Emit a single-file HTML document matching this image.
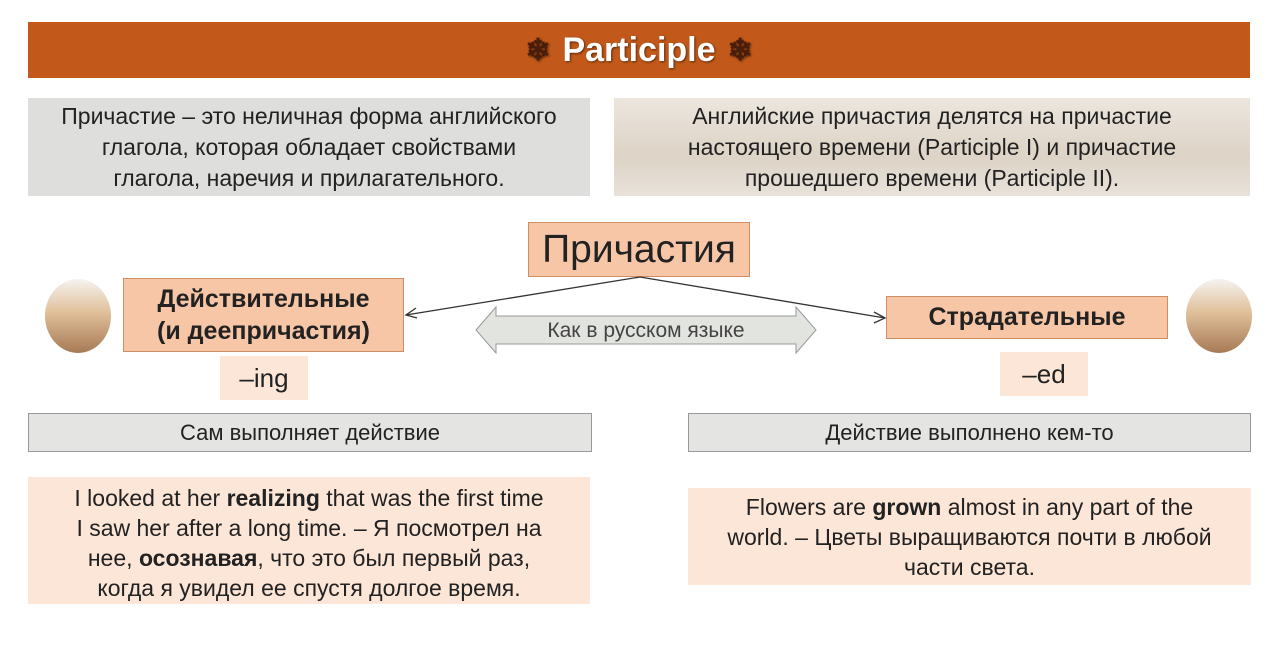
<!DOCTYPE html>
<html><head><meta charset="utf-8"><style>
body{margin:0;width:1280px;height:652px;background:#fff;position:relative;overflow:hidden;font-family:"Liberation Sans","Noto Sans CJK SC",sans-serif;color:#222}
.a{position:absolute;box-sizing:border-box;display:flex;align-items:center;justify-content:center;text-align:center;white-space:nowrap}
.pk{background:#f7c6a6;border:1px solid #cf8d62}
.lt{background:#fce6d8}
.gr{background:#e4e4e2;border:1px solid #999}
.ov{position:absolute;border-radius:50%;background:linear-gradient(#f5f3f0,#e0c09a 45%,#a77a55)}
</style></head><body>
<div class="a" style="left:28px;top:22px;width:1222px;height:56px;background:#c2591b;color:#fff;font-weight:bold;font-size:34px;text-shadow:1px 1px 2px #5a2a0a">
<span style="color:#4a1d0a;font-size:30px;margin-right:12px">❄</span>Participle<span style="color:#4a1d0a;font-size:30px;margin-left:12px">❄</span></div>
<div class="a" style="left:28px;top:98px;width:562px;height:98px;background:#dededc;font-size:23px;line-height:31px"><div>Причастие – это неличная форма английского<br>глагола, которая обладает свойствами<br>глагола, наречия и прилагательного.</div></div>
<div class="a" style="left:614px;top:98px;width:636px;height:98px;background:linear-gradient(#ece6de,#ddd3c6 60%,#e8e2da);font-size:23px;line-height:31px"><div>Английские причастия делятся на причастие<br>настоящего времени (Participle I) и причастие<br>прошедшего времени (Participle II).</div></div>
<div class="a pk" style="left:528px;top:222px;width:222px;height:55px;font-size:39px">Причастия</div>
<div class="a pk" style="left:123px;top:278px;width:281px;height:74px;font-size:25px;font-weight:bold;line-height:32px"><div>Действительные<br>(и деепричастия)</div></div>
<div class="a pk" style="left:886px;top:296px;width:282px;height:43px;font-size:25px;font-weight:bold">Страдательные</div>
<div class="a lt" style="left:220px;top:356px;width:88px;height:44px;font-size:26px">–ing</div>
<div class="a lt" style="left:1000px;top:352px;width:88px;height:44px;font-size:26px">–ed</div>
<div class="ov" style="left:45px;top:279px;width:66px;height:74px"></div>
<div class="ov" style="left:1186px;top:279px;width:66px;height:74px"></div>
<svg style="position:absolute;left:0;top:0" width="1280" height="652">
<polygon points="476,330 496,307 496,316 796,316 796,307 816,330 796,353 796,344 496,344 496,353" fill="#e2e4e0" stroke="#9a9a9a"/>
<text x="646" y="337" text-anchor="middle" font-size="21" fill="#444" font-family="Liberation Sans,sans-serif">Как в русском языке</text>
<line x1="640" y1="277" x2="406" y2="315" stroke="#333" stroke-width="1.3"/>
<polyline points="416,308 406,315 417,318" fill="none" stroke="#333" stroke-width="1.3"/>
<line x1="640" y1="277" x2="885" y2="318" stroke="#333" stroke-width="1.3"/>
<polyline points="874,312 885,318 874,323" fill="none" stroke="#333" stroke-width="1.3"/>
</svg>
<div class="a gr" style="left:28px;top:413px;width:564px;height:39px;font-size:22px">Сам выполняет действие</div>
<div class="a gr" style="left:688px;top:413px;width:563px;height:39px;font-size:22px">Действие выполнено кем-то</div>
<div class="a lt" style="left:28px;top:477px;width:562px;height:127px;font-size:23px;line-height:30px;padding-top:4px"><div>I looked at her <b>realizing</b> that was the first time<br>I saw her after a long time. – Я посмотрел на<br>нее, <b>осознавая</b>, что это был первый раз,<br>когда я увидел ее спустя долгое время.</div></div>
<div class="a lt" style="left:688px;top:488px;width:563px;height:97px;font-size:23px;line-height:30px"><div>Flowers are <b>grown</b> almost in any part of the<br>world. – Цветы выращиваются почти в любой<br>части света.</div></div>
</body></html>
